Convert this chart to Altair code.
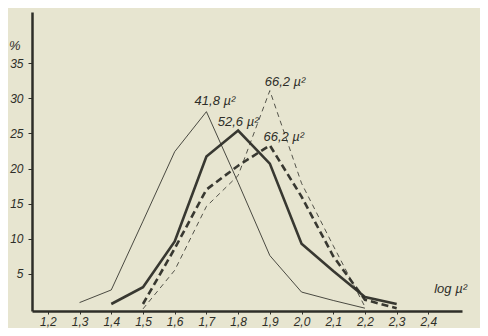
import altair as alt
import pandas as pd

# x positions (log µ²)
x_thin_solid = [1.3, 1.4, 1.5, 1.6, 1.7, 1.8, 1.9, 2.0, 2.1, 2.2]
y_thin_solid = [0.9, 2.7, 12.5, 22.4, 28.1, 18.0, 7.6, 2.4, 1.2, 0.1]

x_thick_solid = [1.4, 1.5, 1.6, 1.7, 1.8, 1.9, 2.0, 2.1, 2.2, 2.3]
y_thick_solid = [0.7, 3.1, 9.6, 21.7, 25.4, 20.7, 9.3, 5.4, 1.7, 0.7]

x_thick_dash = [1.5, 1.6, 1.7, 1.8, 1.9, 2.0, 2.1, 2.2, 2.3]
y_thick_dash = [0.7, 8.6, 17.0, 20.4, 23.3, 16.0, 7.5, 1.3, 0.1]

x_thin_dash = [1.5, 1.6, 1.7, 1.8, 1.9, 2.0, 2.1, 2.2]
y_thin_dash = [0.0, 5.5, 14.6, 19.0, 31.1, 17.9, 9.0, 0.3]

x_ticks = [1.2, 1.3, 1.4, 1.5, 1.6, 1.7, 1.8, 1.9, 2.0, 2.1, 2.2, 2.3, 2.4]
y_ticks = [5, 10, 15, 20, 25, 30, 35]

label_text = ["41,8 µ²", "52,6 µ²", "66,2 µ²", "66,2 µ²", "log µ²", "%"]
label_x = [1.727, 1.80, 1.944, 1.948, 2.47, 1.096]
label_y = [29.6, 26.6, 24.5, 32.3, 2.8, 37.5]

INK = "#2e2e28"
BG = "#e7e5d0"
FONT = "Liberation Sans"

X = alt.Scale(domain=[1.15, 2.506], nice=False, zero=False)
Y = alt.Scale(domain=[-0.3, 42.3], nice=False, zero=False)

x_axis = alt.Axis(values=x_ticks, title=None, grid=False,
                  labelExpr="replace(format(datum.value, '.1f'), '.', ',')",
                  labelOverlap=False, labelFlush=False, labelSeparation=0,
                  labelFont=FONT, labelFontStyle="italic", labelFontSize=12,
                  labelColor=INK, domainColor=INK, domainWidth=2.5,
                  tickColor=INK, tickSize=3, labelPadding=2)
y_axis = alt.Axis(values=y_ticks, title=None, grid=False,
                  labelOverlap=False,
                  labelFont=FONT, labelFontStyle="italic", labelFontSize=12,
                  labelColor=INK, domainColor=INK, domainWidth=2.5,
                  tickColor=INK, tickSize=4, labelPadding=5)


def series(xs, ys, width, dash, opacity):
    df = pd.DataFrame({"x": xs, "y": ys})
    props = dict(color=INK, strokeWidth=width, opacity=opacity, strokeJoin="miter")
    if dash:
        props["strokeDash"] = dash
    return alt.Chart(df).mark_line(**props).encode(
        x=alt.X("x:Q", scale=X, axis=x_axis),
        y=alt.Y("y:Q", scale=Y, axis=y_axis),
    )


lines = [
    series(x_thin_solid, y_thin_solid, 1.0, None, 0.85),
    series(x_thick_solid, y_thick_solid, 2.6, None, 0.95),
    series(x_thick_dash, y_thick_dash, 2.6, [7, 4], 0.95),
    series(x_thin_dash, y_thin_dash, 1.0, [5, 4], 0.8),
]

labels_df = pd.DataFrame({"x": label_x, "y": label_y, "t": label_text})
labels = alt.Chart(labels_df).mark_text(
    font=FONT, fontStyle="italic", fontSize=13, color=INK, align="center", baseline="middle"
).encode(x=alt.X("x:Q", scale=X, axis=x_axis), y=alt.Y("y:Q", scale=Y, axis=y_axis), text="t:N")

chart = alt.layer(*lines, labels).properties(
    width=430, height=299,
    background=BG,
    padding={"left": 24, "top": 4, "right": 18, "bottom": 17},
    autosize=alt.AutoSizeParams(type="none"),
).configure_view(stroke=None).configure_axisX(labelOverlap=False)

chart.save("out.html", embed_options={"renderer": "svg", "actions": False})
